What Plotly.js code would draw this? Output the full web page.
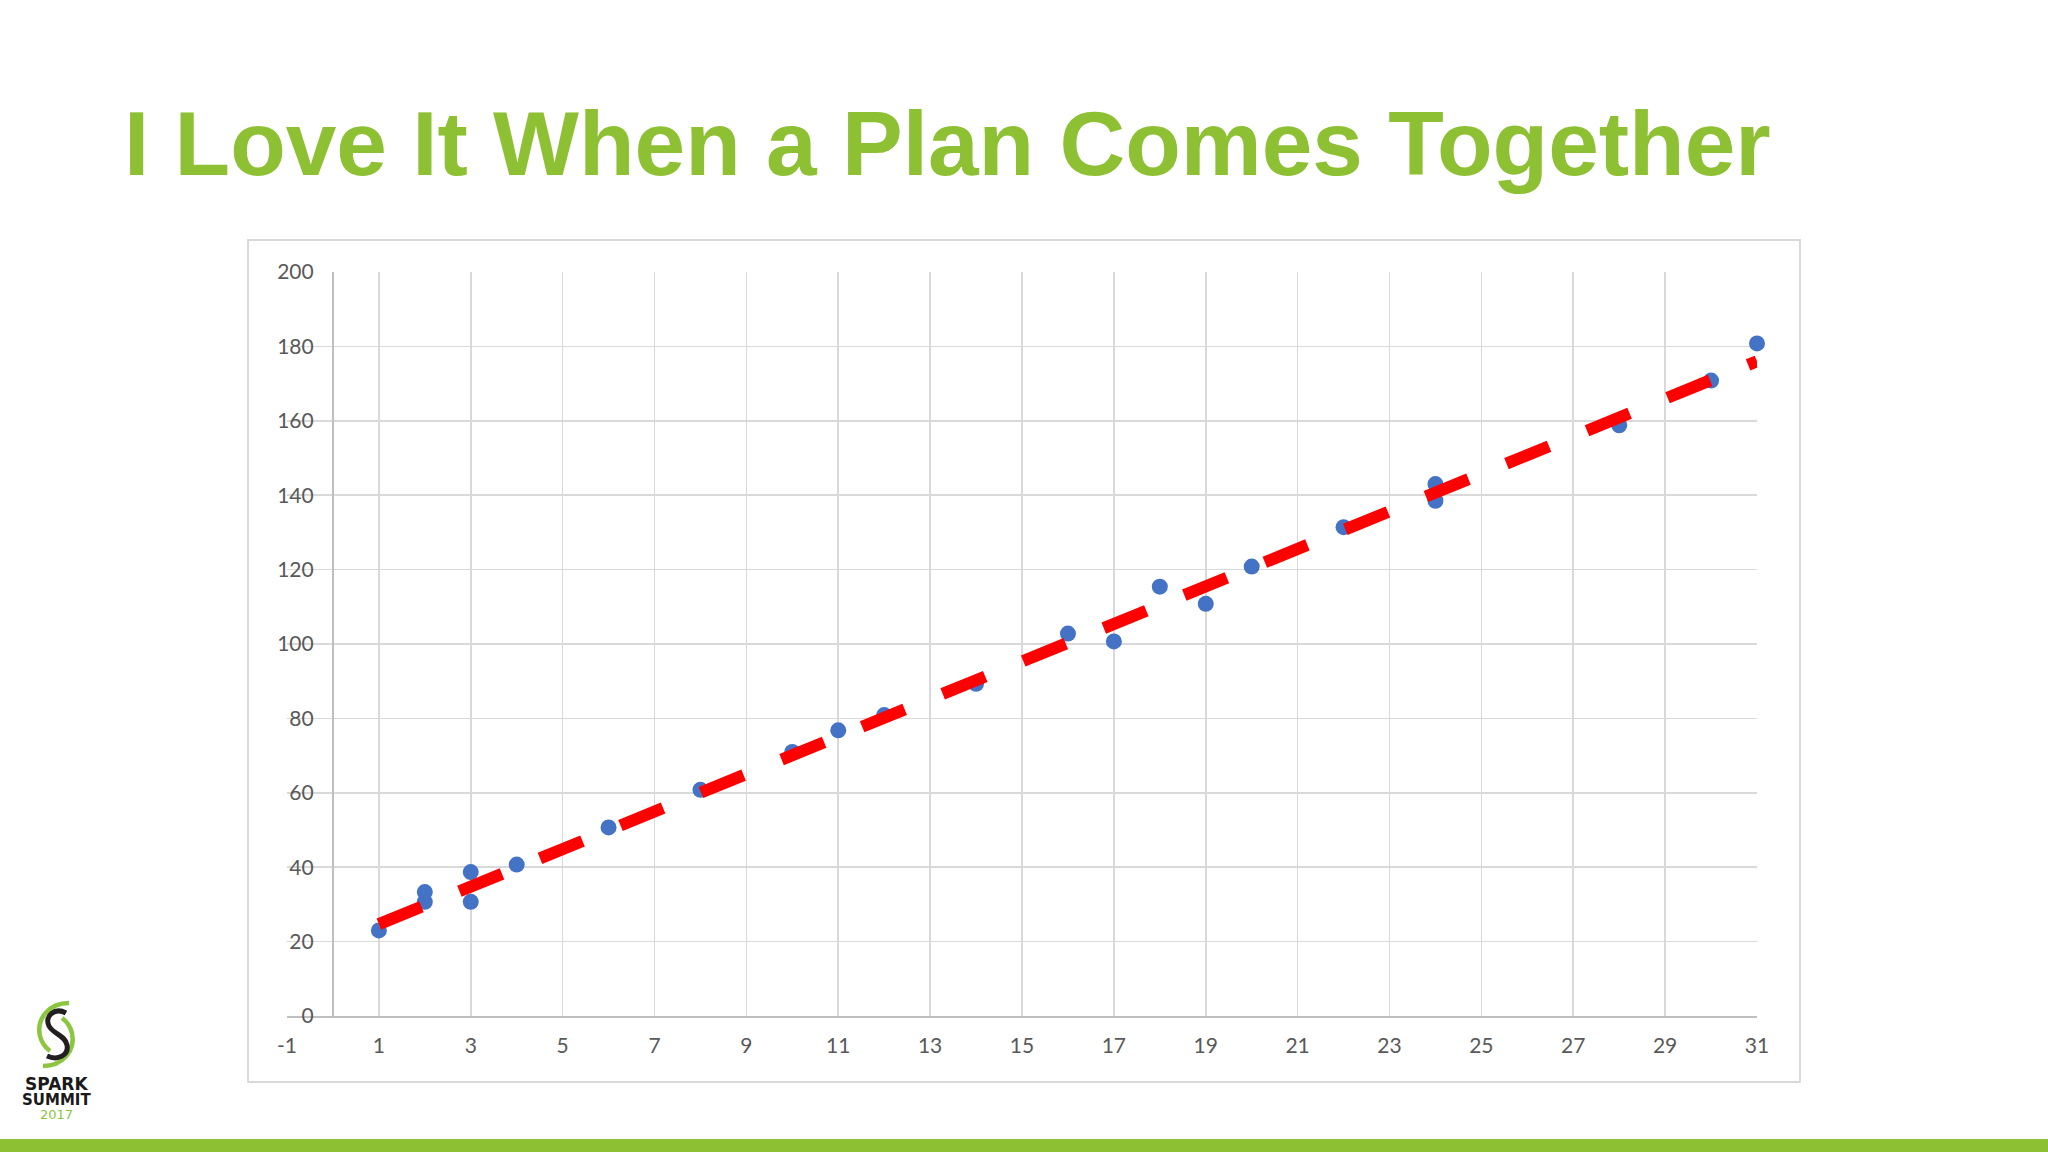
<!DOCTYPE html>
<html>
<head>
<meta charset="utf-8">
<script src="https://cdn.plot.ly/plotly-3.0.1.min.js"></script>
<style>
  html, body { margin: 0; padding: 0; background: #ffffff; }
  #chart { width: 2048px; height: 1152px; }
</style>
</head>
<body>
<div id="chart"></div>
<script>
// ---- data ----
const titleText = "I Love It When a Plan Comes Together";
const pointX = [1, 2, 2, 3, 3, 4, 6, 8, 10, 11, 12, 14, 16, 17, 18, 19, 20, 22, 24, 24, 28, 30, 31];
const pointY = [23, 33.3, 30.7, 38.7, 30.7, 40.7, 50.7, 60.8, 71, 76.8, 80.9, 89.3, 102.8, 100.7, 115.4, 110.8, 120.8, 131.4, 143, 138.5, 158.8, 170.8, 180.8];
const trendX = [1, 31];
const trendY = [24.7, 176];
const xTickVals = [-1, 1, 3, 5, 7, 9, 11, 13, 15, 17, 19, 21, 23, 25, 27, 29, 31];
const xTickText = ["-1", "1", "3", "5", "7", "9", "11", "13", "15", "17", "19", "21", "23", "25", "27", "29", "31"];
const yTickVals = [0, 20, 40, 60, 80, 100, 120, 140, 160, 180, 200];
const yTickText = ["0", "20", "40", "60", "80", "100", "120", "140", "160", "180", "200"];
const logoLines = ["SPARK", "SUMMIT", "2017"];

// ---- layout geometry ----
const W = 2048, H = 1152;
const M = { l: 287, r: 291, t: 272, b: 136 };
const PW = W - M.l - M.r, PH = H - M.t - M.b;
const px = x => (x - M.l) / PW;
const py = y => (H - M.b - y) / PH;
const pathFrom = segs => segs.map(s => s[0] + " " + s.slice(1).map(p => px(p[0]).toFixed(5) + "," + py(p[1]).toFixed(5)).join(" ")).join(" ");

const GREEN = "#8dc032";

const traces = [
  {
    type: "scatter", mode: "markers", x: pointX, y: pointY,
    marker: { color: "#4472c4", size: 16, line: { width: 0 } },
    cliponaxis: false,
    hoverinfo: "x+y", showlegend: false
  },
  {
    type: "scatter", mode: "lines", x: trendX, y: trendY,
    line: { color: "#ff0000", width: 12, dash: "46px,41px" },
    hoverinfo: "skip", showlegend: false
  }
];

const shapes = [
  // chart frame
  { type: "rect", xref: "paper", yref: "paper", x0: px(248), x1: px(1800), y0: py(1082), y1: py(240),
    line: { color: "#d9d9d9", width: 2 }, fillcolor: "rgba(0,0,0,0)", layer: "below" },
  // bottom green band
  { type: "rect", xref: "paper", yref: "paper", x0: px(0), x1: px(W), y0: py(H + 2), y1: py(1139),
    line: { width: 0 }, fillcolor: GREEN, layer: "above" },
  // logo mark
  { type: "path", xref: "paper", yref: "paper", layer: "above",
    path: pathFrom([["M", [69, 1003]], ["C", [50, 1003], [36, 1018], [40, 1036]], ["C", [42, 1044], [46, 1048], [50, 1051]]]),
    line: { color: "#8cc63f", width: 4.5 } },
  { type: "path", xref: "paper", yref: "paper", layer: "above",
    path: pathFrom([["M", [43, 1066]], ["C", [62, 1066], [76, 1051], [72, 1033]], ["C", [70, 1025], [66, 1021], [62, 1018]]]),
    line: { color: "#8cc63f", width: 4.5 } },
  { type: "path", xref: "paper", yref: "paper", layer: "above",
    path: pathFrom([["M", [66, 1013]], ["C", [55, 1007], [44, 1016], [49, 1026]], ["C", [53, 1034], [65, 1035], [67, 1045]], ["C", [69, 1055], [58, 1061], [47, 1056]]]),
    line: { color: "#231f20", width: 5 } }
];

const annotations = [
  { xref: "paper", yref: "paper", x: px(56), y: py(1084), text: "<b>" + logoLines[0] + "</b>", showarrow: false,
    xanchor: "center", yanchor: "middle", font: { family: "DejaVu Sans", size: 17, color: "#1a1a1a" } },
  { xref: "paper", yref: "paper", x: px(56), y: py(1100), text: "<b>" + logoLines[1] + "</b>", showarrow: false,
    xanchor: "center", yanchor: "middle", font: { family: "DejaVu Sans", size: 15, color: "#1a1a1a" } },
  { xref: "paper", yref: "paper", x: px(56), y: py(1114), text: logoLines[2], showarrow: false,
    xanchor: "center", yanchor: "middle", font: { family: "DejaVu Sans", size: 13, color: "#8cc63f" } }
];

const layout = {
  width: W, height: H,
  margin: M,
  paper_bgcolor: "#ffffff", plot_bgcolor: "#ffffff",
  showlegend: false,
  title: {
    text: "<b>" + titleText + "</b>",
    xref: "container", yref: "container",
    x: 124 / W, xanchor: "left",
    y: 1 - 143 / H, yanchor: "middle",
    font: { family: "Liberation Sans, Arial, sans-serif", size: 91, color: GREEN }
  },
  xaxis: {
    range: [-1, 31], tickmode: "array", tickvals: xTickVals, ticktext: xTickText,
    showgrid: true, gridcolor: "#d9d9d9", gridwidth: 1.6,
    zeroline: false, showline: true, linecolor: "#bfbfbf", linewidth: 2,
    ticks: "", ticklabelstandoff: 10,
    tickfont: { family: "Lato, 'Open Sans', sans-serif", size: 21, color: "#595959" },
    fixedrange: true
  },
  yaxis: {
    range: [0, 200], tickmode: "array", tickvals: yTickVals, ticktext: yTickText,
    anchor: "free", position: 1 / 32,
    showgrid: true, gridcolor: "#d9d9d9", gridwidth: 1.6,
    zeroline: false, showline: true, linecolor: "#bfbfbf", linewidth: 2,
    ticks: "", ticklabelstandoff: 14,
    tickfont: { family: "Lato, 'Open Sans', sans-serif", size: 21, color: "#595959" },
    fixedrange: true
  },
  shapes: shapes,
  annotations: annotations
};

Plotly.newPlot("chart", traces, layout, { displayModeBar: false, staticPlot: true });
</script>
</body>
</html>
